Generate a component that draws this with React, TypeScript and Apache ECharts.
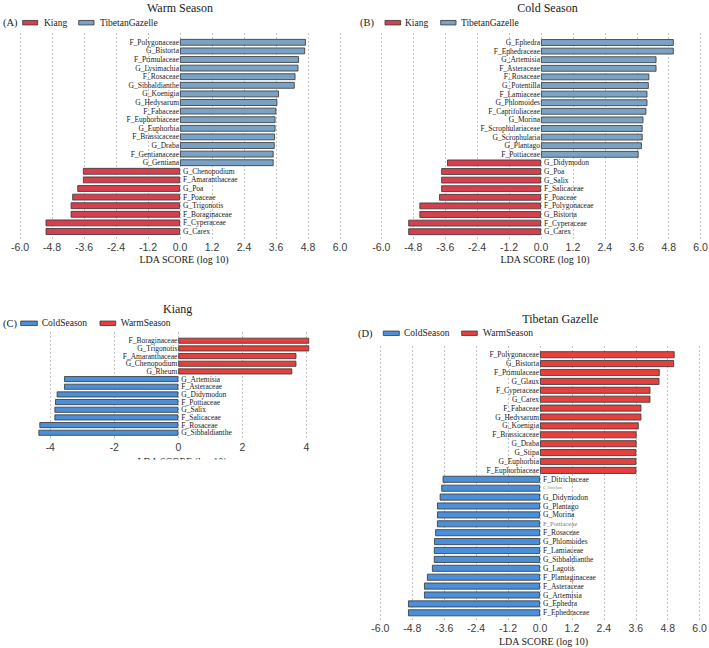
import React, { useEffect, useRef } from "react";
import * as echarts from "echarts";

// LEfSe results; positive LDA scores belong to the second group of each panel
// (TibetanGazelle in A/B, WarmSeason in C/D), negative ones to the first group.

// (A) Warm Season: Kiang (-) vs TibetanGazelle (+)
const warmTaxa = [
  "F_Polygonaceae", "G_Bistorta", "F_Primulaceae", "G_Lysimachia", "F_Rosaceae",
  "G_Sibbaldianthe", "G_Koenigia", "G_Hedysarum", "F_Fabaceae", "F_Euphorbiaceae",
  "G_Euphorbia", "F_Brassicaceae", "G_Draba", "F_Gentianaceae", "G_Gentiana",
  "G_Chenopodium", "F_Amaranthaceae", "G_Poa", "F_Poaceae", "G_Trigonotis",
  "F_Boraginaceae", "F_Cyperaceae", "G_Carex",
];
const warmLDA = [
  4.72, 4.69, 4.46, 4.44, 4.33, 4.3, 3.71, 3.65, 3.61, 3.58, 3.58, 3.56, 3.55, 3.51, 3.51,
  -3.64, -3.64, -3.85, -4.04, -4.1, -4.1, -5.04, -5.04,
];

// (B) Cold Season: Kiang (-) vs TibetanGazelle (+)
const coldTaxa = [
  "G_Ephedra", "F_Ephedraceae", "G_Artemisia", "F_Asteraceae", "F_Rosaceae",
  "G_Potentilla", "F_Lamiaceae", "G_Phlomoides", "F_Caprifoliaceae", "G_Morina",
  "F_Scrophulariaceae", "G_Scrophularia", "G_Plantago", "F_Pottiaceae",
  "G_Didymodon", "G_Poa", "G_Salix", "F_Salicaceae", "F_Poaceae", "F_Polygonaceae",
  "G_Bistorta", "F_Cyperaceae", "G_Carex",
];
const coldLDA = [
  4.99, 4.99, 4.34, 4.34, 4.07, 4.05, 4.0, 4.0, 3.96, 3.85, 3.82, 3.82, 3.79, 3.67,
  -3.53, -3.75, -3.75, -3.75, -3.83, -4.57, -4.57, -4.99, -4.99,
];

// (C) Kiang: ColdSeason (-) vs WarmSeason (+)
const kiangTaxa = [
  "F_Boraginaceae", "G_Trigonotis", "F_Amaranthaceae", "G_Chenopodium", "G_Rheum",
  "G_Artemisia", "F_Asteraceae", "G_Didymodon", "F_Pottiaceae", "G_Salix",
  "F_Salicaceae", "F_Rosaceae", "G_Sibbaldianthe",
];
const kiangLDA = [4.09, 4.09, 3.69, 3.69, 3.56, -3.57, -3.57, -3.8, -3.85, -3.87, -3.87, -4.34, -4.37];

// (D) Tibetan Gazelle: ColdSeason (-) vs WarmSeason (+)
const gazelleTaxa = [
  "F_Polygonaceae", "G_Bistorta", "F_Primulaceae", "G_Glaux", "F_Cyperaceae", "G_Carex",
  "F_Fabaceae", "G_Hedysarum", "G_Koenigia", "F_Brassicaceae", "G_Draba", "G_Stipa",
  "G_Euphorbia", "F_Euphorbiaceae", "F_Ditrichaceae", "G_Ditrichum", "G_Didymodon",
  "G_Plantago", "G_Morina", "F_Pottiaceae", "F_Rosaceae", "G_Phlomoides", "F_Lamiaceae",
  "G_Sibbaldianthe", "G_Lagotis", "F_Plantaginaceae", "F_Asteraceae", "G_Artemisia",
  "G_Ephedra", "F_Ephedraceae",
];
const gazelleLDA = [
  5.06, 5.04, 4.5, 4.49, 4.15, 4.15, 3.81, 3.81, 3.71, 3.63, 3.63, 3.62, 3.62, 3.62,
  -3.66, -3.71, -3.77, -3.87, -3.87, -3.87, -3.94, -3.98, -3.99, -3.99, -4.06, -4.25,
  -4.36, -4.36, -4.96, -4.96,
];

const ldaTicks = [-6, -4.8, -3.6, -2.4, -1.2, 0, 1.2, 2.4, 3.6, 4.8, 6];
const kiangTicks = [-4, -2, 0, 2, 4];

const SERIF = "'Liberation Serif', 'Times New Roman', serif";
const SANS = "'Liberation Sans', Arial, sans-serif";
const EDGE = "#333333";

const COLORS = {
  kiang: "#d6404e",
  gazelle: "#7aa2c4",
  cold: "#4a8fd8",
  warm: "#e3403e",
};

type Box = { left: number; width: number; top: number; height: number };
type Panel = {
  taxa: string[];
  lda: number[];
  posName: string;
  negName: string;
  posColor: string;
  negColor: string;
  min: number;
  max: number;
  ticks: number[];
  decimals: number;
  bars: Box;
  lines: { top: number; height: number };
  labelStyles?: Record<string, { fontSize: number; color: string }>;
};

const panels: Panel[] = [
  {
    taxa: warmTaxa, lda: warmLDA,
    posName: "TibetanGazelle", negName: "Kiang",
    posColor: COLORS.gazelle, negColor: COLORS.kiang,
    min: -6, max: 6, ticks: ldaTicks, decimals: 1,
    bars: { left: 20, width: 320, top: 38, height: 197.8 },
    lines: { top: 33, height: 207 },
  },
  {
    taxa: coldTaxa, lda: coldLDA,
    posName: "TibetanGazelle", negName: "Kiang",
    posColor: COLORS.gazelle, negColor: COLORS.kiang,
    min: -6, max: 6, ticks: ldaTicks, decimals: 1,
    bars: { left: 381.4, width: 319.2, top: 38.2, height: 197.8 },
    lines: { top: 33, height: 207 },
  },
  {
    taxa: kiangTaxa, lda: kiangLDA,
    posName: "WarmSeason", negName: "ColdSeason",
    posColor: COLORS.warm, negColor: COLORS.cold,
    min: -4.6, max: 4.6, ticks: kiangTicks, decimals: 0,
    bars: { left: 31.1, width: 294.4, top: 336.9, height: 99.7 },
    lines: { top: 332, height: 108 },
  },
  {
    taxa: gazelleTaxa, lda: gazelleLDA,
    posName: "WarmSeason", negName: "ColdSeason",
    posColor: COLORS.warm, negColor: COLORS.cold,
    min: -6, max: 6, ticks: ldaTicks, decimals: 1,
    bars: { left: 380.4, width: 319.2, top: 350.25, height: 267 },
    lines: { top: 346, height: 275 },
    labelStyles: {
      G_Ditrichum: { fontSize: 3.6, color: "#8a8a8a" },
      F_Pottiaceae: { fontSize: 6.6, color: "#777777" },
    },
  },
];

function buildOption() {
  const grid: any[] = [];
  const xAxis: any[] = [];
  const yAxis: any[] = [];
  const series: any[] = [];

  panels.forEach((p, i) => {
    const barIdx = 2 * i;
    const lineIdx = 2 * i + 1;

    grid.push({ ...p.bars, outerBoundsMode: "none", containLabel: false });
    grid.push({
      left: p.bars.left, width: p.bars.width, top: p.lines.top, height: p.lines.height,
      outerBoundsMode: "none", containLabel: false,
    });

    // bar grid axes (hidden)
    xAxis.push({ type: "value", gridIndex: barIdx, min: p.min, max: p.max, show: false });
    yAxis.push({
      type: "category", gridIndex: barIdx, data: p.taxa, inverse: true, show: false,
    });

    // grid-line / tick-label axes
    xAxis.push({
      type: "value", gridIndex: lineIdx, min: p.min, max: p.max,
      axisLine: { show: false },
      axisTick: { show: false, customValues: p.ticks },
      axisLabel: {
        customValues: p.ticks,
        margin: 1,
        fontFamily: SANS,
        fontSize: 10.5,
        color: "#3a3a3a",
        formatter: (v: number) => {
          const r = Math.abs(v) < 1e-9 ? 0 : v;
          return r.toFixed(p.decimals);
        },
      },
      splitLine: { show: true, lineStyle: { color: "#b5b5b5", width: 0.8, type: [2, 2] } },
    });
    yAxis.push({ type: "value", gridIndex: lineIdx, min: 0, max: 1, show: false });

    const labelBase = {
      show: true,
      formatter: "{b}",
      fontFamily: SERIF,
      fontWeight: "normal",
      fontSize: 7.5,
      color: "#1a1a1a",
    };
    const item = (v: number, k: number) => {
      const extra = p.labelStyles && p.labelStyles[p.taxa[k]];
      return extra ? { value: v, label: extra } : v;
    };

    series.push({
      type: "bar",
      name: p.posName,
      xAxisIndex: barIdx,
      yAxisIndex: barIdx,
      barGap: "-100%",
      barCategoryGap: "22%",
      data: p.lda.map((v, k) => (v > 0 ? item(v, k) : "-")),
      itemStyle: { color: p.posColor, borderColor: EDGE, borderWidth: 0.8 },
      label: { ...labelBase, position: "left", distance: 1 },
      silent: true,
    });
    series.push({
      type: "bar",
      name: p.negName,
      xAxisIndex: barIdx,
      yAxisIndex: barIdx,
      barGap: "-100%",
      barCategoryGap: "22%",
      data: p.lda.map((v, k) => (v < 0 ? item(v, k) : "-")),
      itemStyle: { color: p.negColor, borderColor: EDGE, borderWidth: 0.8 },
      label: { ...labelBase, position: "right", distance: 3 },
      silent: true,
    });
  });

  const text = (
    x: number, y: number, t: string, size: number,
    align: "left" | "center" = "center", family = SERIF
  ) => ({
    type: "text",
    x, y,
    silent: true,
    style: {
      text: t, fontFamily: family, fontSize: size, fontWeight: "normal", fill: "#1a1a1a",
      textAlign: align, textVerticalAlign: "middle",
    },
  });
  const key = (x: number, y: number, w: number, color: string) => ({
    type: "rect",
    silent: true,
    shape: { x, y: y - 2.25, width: w, height: 4.5 },
    style: { fill: color, stroke: EDGE, lineWidth: 0.8 },
  });

  const graphic: any[] = [
    // panel titles
    text(180, 7.5, "Warm Season", 12),
    text(547.5, 7.5, "Cold Season", 12),
    text(177.7, 309, "Kiang", 12),
    text(560.3, 319, "Tibetan Gazelle", 12),

    // legends
    text(3, 22.7, "(A)", 10.5, "left"),
    key(22.7, 22.7, 15, COLORS.kiang),
    text(44, 22.7, "Kiang", 9.5, "left"),
    key(78.7, 22.7, 15.3, COLORS.gazelle),
    text(100, 22.7, "TibetanGazelle", 9.5, "left"),

    text(360, 22.7, "(B)", 10.5, "left"),
    key(385, 22.7, 15.7, COLORS.kiang),
    text(405, 22.7, "Kiang", 9.5, "left"),
    key(440.7, 22.7, 15.3, COLORS.gazelle),
    text(461, 22.7, "TibetanGazelle", 9.5, "left"),

    text(3, 323.3, "(C)", 10.5, "left"),
    key(20.7, 323.3, 16.6, COLORS.cold),
    text(41.7, 323.3, "ColdSeason", 9.5, "left"),
    key(100, 323.3, 15.7, COLORS.warm),
    text(120.7, 323.3, "WarmSeason", 9.5, "left"),

    text(358, 333.3, "(D)", 10.5, "left"),
    key(383.3, 333.3, 16, COLORS.cold),
    text(404, 333.3, "ColdSeason", 9.5, "left"),
    key(461.7, 333.3, 15.6, COLORS.warm),
    text(483, 333.3, "WarmSeason", 9.5, "left"),

    // x-axis titles
    text(184, 259.3, "LDA SCORE (log 10)", 10),
    text(545, 259.3, "LDA SCORE (log 10)", 10),
    text(182, 461, "LDA SCORE (log 10)", 10),
    {
      type: "rect",
      silent: true,
      z: 100,
      shape: { x: 100, y: 459.5, width: 160, height: 12 },
      style: { fill: "#ffffff" },
    },
    text(543.5, 641, "LDA SCORE (log 10)", 10),
  ];

  return {
    animation: false,
    backgroundColor: "#ffffff",
    grid,
    xAxis,
    yAxis,
    series,
    graphic,
  };
}

export default function App() {
  const ref = useRef<HTMLDivElement>(null);

  useEffect(() => {
    if (!ref.current) return;
    const chart = echarts.init(ref.current, undefined, { renderer: "svg" });
    chart.setOption(buildOption() as any);
    return () => chart.dispose();
  }, []);

  return (
    <div
      ref={ref}
      style={{ position: "fixed", left: 0, top: 0, width: 709, height: 648, background: "#fff" }}
    />
  );
}
